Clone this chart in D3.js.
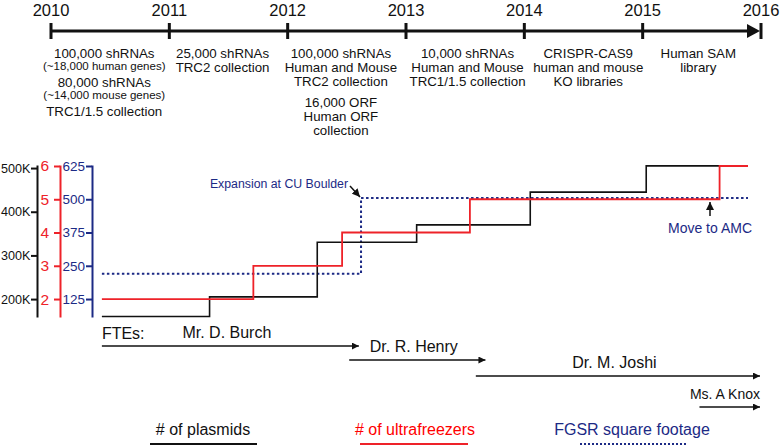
<!DOCTYPE html>
<html><head><meta charset="utf-8">
<script src="https://cdn.jsdelivr.net/npm/d3@7"></script>
<style>
body{margin:0;background:#fff}
svg text{font-family:"Liberation Sans",Arial,sans-serif}
</style></head>
<body><svg id="c" width="780" height="446"></svg>
<script>
// ---------- data ----------
const years = [2010, 2011, 2012, 2013, 2014, 2015, 2016];
const noteYears = [2010.45, 2011.45, 2012.45, 2013.52, 2014.54, 2015.47];
const noteBlocks = [
  [[["100,000 shRNAs",0],["(~18,000 human genes)",1]],[["80,000 shRNAs",0],["(~14,000 mouse genes)",1]],[["TRC1/1.5 collection",0]]],
  [[["25,000 shRNAs",0],["TRC2 collection",0]]],
  [[["100,000 shRNAs",0],["Human and Mouse",0],["TRC2 collection",0]],[["16,000 ORF",0],["Human ORF",0],["collection",0]]],
  [[["10,000 shRNAs",0],["Human and Mouse",0],["TRC1/1.5 collection",0]]],
  [[["CRISPR-CAS9",0],["human and mouse",0],["KO libraries",0]]],
  [[["Human SAM",0],["library",0]]]
];
const plasmidTicks = [200000, 300000, 400000, 500000];
const freezerTicks = [2, 3, 4, 5, 6];
const footageTicks = [125, 250, 375, 500, 625];

const startDate = 2010.43, endDate = 2015.89;
const plasmidDates = [2010.43, 2011.34, 2012.25, 2013.09, 2014.05, 2015.03];
const plasmidValues = [160000, 205000, 330000, 370000, 445000, 505000];
const freezerDates = [2010.43, 2011.71, 2012.46, 2013.54, 2015.65];
const freezerValues = [2, 3, 4, 5, 6];
const footageDates = [2010.43, 2012.62];
const footageValues = [220, 505];

const fteNames = ["Mr. D. Burch", "Dr. R. Henry", "Dr. M. Joshi", "Ms. A Knox"];
const fteStart = [2010.43, 2012.52, 2013.59, 2015.48];
const fteEnd = [2012.61, 2013.68, 2016.0, 2016.0];

const legendLabels = ["# of plasmids", "# of ultrafreezers", "FGSR square footage"];

// ---------- setup ----------
const BLACK = "#111", RED = "#ee2229", BLUE = "#1c2a85";
const svg = d3.select("#c");
const x = d3.scaleLinear().domain([2010, 2016]).range([51, 761]);

const defs = svg.append("defs");
function marker(id, color, w, h) {
  defs.append("marker").attr("id", id).attr("viewBox", "0 0 10 10")
    .attr("refX", 10).attr("refY", 5).attr("markerUnits", "userSpaceOnUse")
    .attr("markerWidth", w).attr("markerHeight", h).attr("orient", "auto")
    .append("path").attr("d", "M0,0L10,5L0,10Z").attr("fill", color);
}
marker("ahB", BLACK, 7, 7);
marker("ahBlue", BLACK, 8, 8);

// ---------- timeline ----------
const tl = svg.append("g");
tl.append("line").attr("x1", x(2010)).attr("x2", x(2016) - 10).attr("y1", 31).attr("y2", 31)
  .attr("stroke", BLACK).attr("stroke-width", 3);
tl.append("path")
  .attr("d", `M${x(2016) - 14},24L${x(2016) - 1},31L${x(2016) - 14},38Z`).attr("fill", BLACK);
tl.selectAll("line.tk").data(years).join("line").attr("class", "tk")
  .attr("x1", d => x(d)).attr("x2", d => x(d)).attr("y1", 23).attr("y2", 39)
  .attr("stroke", BLACK).attr("stroke-width", 3);
tl.selectAll("text.yr").data(years).join("text").attr("class", "yr")
  .attr("x", d => x(d)).attr("y", 15.5).attr("text-anchor", "middle")
  .attr("font-size", 16.5).attr("fill", BLACK).text(d => d);

noteBlocks.forEach((blocks, i) => {
  let yb = 58, prevSmall = false, first = true;
  blocks.forEach((blk, bi) => {
    blk.forEach(([txt, small], li) => {
      if (!first) {
        if (li === 0) yb += prevSmall ? 17 : 21;
        else yb += small ? 12 : 14;
      }
      first = false;
      tl.append("text").attr("x", x(noteYears[i])).attr("y", yb)
        .attr("text-anchor", "middle").attr("font-size", small ? 11.5 : 13.3)
        .attr("fill", BLACK).text(txt);
      prevSmall = !!small;
    });
  });
});

// ---------- axes ----------
const yP = d3.scaleLinear().domain([159000, 507000]).range([317, 165]);
const yF = d3.scaleLinear().domain([1.46, 6.03]).range([317, 165]);
const yS = d3.scaleLinear().domain([57.5, 628.75]).range([317, 165]);

function drawAxis(xpos, scale, ticks, fmt, color, pad, fs) {
  const g = svg.append("g").attr("transform", `translate(${xpos},0)`)
    .call(d3.axisLeft(scale).tickValues(ticks).tickFormat(fmt).tickSize(6).tickSizeOuter(0).tickPadding(pad));
  g.select(".domain").attr("stroke", color).attr("stroke-width", 2);
  g.selectAll(".tick line").attr("stroke", color).attr("stroke-width", 2);
  g.selectAll(".tick text").attr("fill", color).attr("font-size", fs)
    .style("font-family", '"Liberation Sans",Arial,sans-serif');
}
drawAxis(37, yP, plasmidTicks, d => (d / 1000) + "K", BLACK, 0.5, 12.6);
drawAxis(60, yF, freezerTicks, d => d, RED, 5, 15.5);
drawAxis(92, yS, footageTicks, d => d, BLUE, 1, 13.5);

// ---------- step lines ----------
function stepPath(dates, values, scale) {
  const pts = dates.map((d, i) => [d, values[i]]);
  pts.push([endDate, values[values.length - 1]]);
  return d3.line().x(p => x(p[0])).y(p => scale(p[1])).curve(d3.curveStepAfter)(pts);
}
svg.append("path").attr("d", stepPath(footageDates, footageValues, yS))
  .attr("fill", "none").attr("stroke", BLUE).attr("stroke-width", 2).attr("stroke-dasharray", "2.5,2.5");
svg.append("path").attr("d", stepPath(plasmidDates, plasmidValues, yP))
  .attr("fill", "none").attr("stroke", BLACK).attr("stroke-width", 1.6);
svg.append("path").attr("d", stepPath(freezerDates, freezerValues, yF))
  .attr("fill", "none").attr("stroke", RED).attr("stroke-width", 1.8);

// ---------- annotations ----------
svg.append("text").attr("x", 348).attr("y", 188).attr("text-anchor", "end")
  .attr("font-size", 12.3).attr("fill", BLUE).text("Expansion at CU Boulder");
svg.append("line").attr("x1", 350).attr("y1", 186).attr("x2", x(footageDates[1]) - 1).attr("y2", yS(footageValues[1]) - 1)
  .attr("stroke", BLACK).attr("stroke-width", 1.5).attr("marker-end", "url(#ahBlue)");
svg.append("text").attr("x", 710).attr("y", 233).attr("text-anchor", "middle")
  .attr("font-size", 14).attr("fill", BLUE).text("Move to AMC");
svg.append("line").attr("x1", 710).attr("y1", 216).attr("x2", 710).attr("y2", 202)
  .attr("stroke", BLACK).attr("stroke-width", 1.5).attr("marker-end", "url(#ahBlue)");

// ---------- FTEs ----------
const fteY = [346, 360, 376, 407];
svg.append("text").attr("x", x(startDate)).attr("y", 339).attr("font-size", 16).attr("fill", BLACK).text("FTEs:");
fteNames.forEach((n, i) => {
  svg.append("line").attr("x1", x(fteStart[i])).attr("x2", x(fteEnd[i]) - 1)
    .attr("y1", fteY[i]).attr("y2", fteY[i]).attr("stroke", BLACK).attr("stroke-width", 1.5)
    .attr("marker-end", "url(#ahB)");
  const last = i === fteNames.length - 1;
  svg.append("text")
    .attr("x", last ? x(fteEnd[i]) - 1 : (x(fteStart[i]) + x(fteEnd[i])) / 2 - 4)
    .attr("y", fteY[i] - 8)
    .attr("text-anchor", last ? "end" : "middle")
    .attr("font-size", last ? 14 : 16).attr("fill", BLACK).text(n);
});

// ---------- legend ----------
const legCx = [203, 415, 632], legX1 = [150, 360, 580], legX2 = [257, 468, 688];
const legColors = [BLACK, RED, BLUE];
legendLabels.forEach((l, i) => {
  svg.append("text").attr("x", legCx[i]).attr("y", 435).attr("text-anchor", "middle")
    .attr("font-size", 16).attr("fill", i === 0 ? BLACK : (i === 1 ? "#f00" : BLUE)).text(l);
  svg.append("line").attr("x1", legX1[i]).attr("x2", legX2[i]).attr("y1", 444).attr("y2", 444)
    .attr("stroke", legColors[i]).attr("stroke-width", 2)
    .attr("stroke-dasharray", i === 2 ? "2,2" : null);
});
</script></body></html>
